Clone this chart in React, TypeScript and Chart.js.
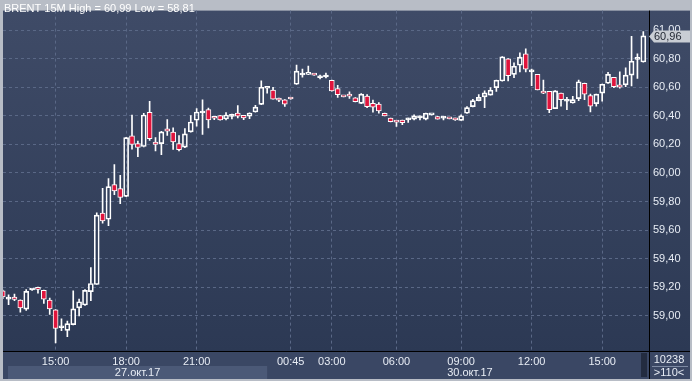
import { useEffect, useRef } from "react";
import { Chart, registerables } from "chart.js";

Chart.register(...registerables);

// ---- data (BRENT 15M) ----
const opens = [
  59.174, 59.116, 59.13, 59.11, 59.046, 59.18, 59.199, 59.178, 59.11, 59.041,
  58.916, 58.897, 58.938, 59.055, 59.075, 59.169, 59.219, 59.719, 59.676, 59.918,
  59.89, 59.836, 60.26, 60.205, 60.185, 60.425, 60.217, 60.205, 60.309, 60.286,
  60.205, 60.181, 60.288, 60.369, 60.42, 60.443, 60.385, 60.401, 60.378, 60.396,
  60.42, 60.403, 60.397, 60.427, 60.48, 60.593, 60.581, 60.512, 60.512, 60.519,
  60.621, 60.686, 60.69, 60.686, 60.667, 60.672, 60.648, 60.591, 60.534, 60.549,
  60.526, 60.487, 60.538, 60.487, 60.483, 60.418, 60.384, 60.357, 60.37, 60.372,
  60.377, 60.386, 60.377, 60.407, 60.395, 60.384, 60.38, 60.384, 60.368, 60.418,
  60.464, 60.506, 60.533, 60.545, 60.598, 60.644, 60.8, 60.69, 60.754, 60.834,
  60.708, 60.69, 60.571, 60.571, 60.451, 60.559, 60.502, 60.49, 60.52, 60.628,
  60.541, 60.486, 60.559, 60.628, 60.669, 60.617, 60.617, 60.685, 60.795, 60.777,
];
const highs = [
  59.18, 59.146, 59.151, 59.112, 59.183, 59.185, 59.201, 59.18, 59.123, 59.043,
  58.979, 58.963, 59.174, 59.116, 59.183, 59.338, 59.721, 59.893, 59.961, 60.059,
  59.984, 60.249, 60.406, 60.224, 60.418, 60.502, 60.247, 60.292, 60.373, 60.316,
  60.262, 60.311, 60.401, 60.45, 60.512, 60.454, 60.386, 60.402, 60.422, 60.413,
  60.471, 60.404, 60.421, 60.473, 60.646, 60.594, 60.6, 60.524, 60.513, 60.52,
  60.755, 60.727, 60.748, 60.687, 60.686, 60.7, 60.65, 60.614, 60.535, 60.568,
  60.527, 60.556, 60.549, 60.51, 60.492, 60.419, 60.385, 60.357, 60.371, 60.384,
  60.407, 60.4, 60.419, 60.408, 60.396, 60.395, 60.381, 60.385, 60.407, 60.464,
  60.515, 60.549, 60.575, 60.598, 60.65, 60.815, 60.801, 60.772, 60.841, 60.869,
  60.727, 60.691, 60.651, 60.572, 60.576, 60.56, 60.529, 60.536, 60.651, 60.629,
  60.552, 60.553, 60.622, 60.704, 60.67, 60.708, 60.736, 60.956, 60.834, 60.99,
];
const lows = [
  59.12, 59.078, 59.105, 59.025, 59.037, 59.178, 59.158, 59.087, 59.009, 58.81,
  58.895, 58.854, 58.936, 58.998, 59.073, 59.105, 59.217, 59.648, 59.63, 59.847,
  59.785, 59.834, 60.167, 60.114, 60.183, 60.228, 60.155, 60.128, 60.262, 60.165,
  60.154, 60.177, 60.286, 60.327, 60.269, 60.316, 60.373, 60.37, 60.371, 60.378,
  60.385, 60.373, 60.38, 60.426, 60.479, 60.558, 60.516, 60.5, 60.466, 60.517,
  60.62, 60.67, 60.689, 60.684, 60.658, 60.665, 60.573, 60.529, 60.532, 60.522,
  60.498, 60.486, 60.457, 60.425, 60.418, 60.399, 60.358, 60.326, 60.338, 60.354,
  60.372, 60.372, 60.372, 60.406, 60.376, 60.372, 60.378, 60.368, 60.367, 60.417,
  60.463, 60.505, 60.457, 60.544, 60.571, 60.643, 60.644, 60.667, 60.708, 60.708,
  60.612, 60.581, 60.555, 60.422, 60.45, 60.467, 60.444, 60.489, 60.506, 60.513,
  60.428, 60.467, 60.502, 60.627, 60.598, 60.594, 60.605, 60.61, 60.662, 60.776,
];
const closes = [
  59.132, 59.118, 59.114, 59.055, 59.171, 59.183, 59.185, 59.116, 59.048, 58.911,
  58.918, 58.945, 59.048, 59.098, 59.178, 59.226, 59.705, 59.664, 59.904, 59.874,
  59.829, 60.247, 60.199, 60.178, 60.406, 60.24, 60.199, 60.288, 60.292, 60.218,
  60.163, 60.274, 60.357, 60.427, 60.422, 60.371, 60.383, 60.371, 60.406, 60.398,
  60.397, 60.385, 60.42, 60.461, 60.6, 60.594, 60.517, 60.51, 60.482, 60.518,
  60.713, 60.688, 60.704, 60.685, 60.668, 60.673, 60.575, 60.549, 60.533, 60.538,
  60.499, 60.552, 60.464, 60.46, 60.434, 60.4, 60.359, 60.356, 60.352, 60.373,
  60.4, 60.387, 60.418, 60.407, 60.377, 60.385, 60.379, 60.372, 60.4, 60.457,
  60.506, 60.529, 60.561, 60.579, 60.649, 60.814, 60.681, 60.747, 60.811, 60.727,
  60.709, 60.582, 60.559, 60.444, 60.575, 60.513, 60.503, 60.513, 60.639, 60.552,
  60.467, 60.552, 60.621, 60.69, 60.605, 60.601, 60.685, 60.782, 60.796, 60.96,
];

const timeTickIndex = [9, 21, 33, 49, 56, 67, 78, 90, 102];
const timeTickLabels = ["15:00", "18:00", "21:00", "00:45", "03:00", "06:00", "09:00", "12:00", "15:00"];
const priceTicks = [59.0, 59.2, 59.4, 59.6, 59.8, 60.0, 60.2, 60.4, 60.6, 60.8, 61.0];
const dateLabels = ["27.окт.17", "30.окт.17"];
const dateStartIndex = [0, 45];
const titleText = "BRENT 15M High = 60,99 Low = 58,81";
const barsTotal = "10238";
const barsVisible = ">110<";

const FONT = '"Liberation Sans Narrow", "Liberation Sans", Arial, sans-serif';
const TXT = "#e8edf5";
const GRID = "#5a6886";
const RED = "#e0143c";

const fmt = (v: number) => v.toFixed(2).replace(".", ",");

export default function App() {
  const ref = useRef<HTMLCanvasElement | null>(null);

  useEffect(() => {
    document.body.style.margin = "0";
    const canvas = ref.current;
    if (!canvas) return;
    const idx = opens.map((_, i) => i);
    const isUp = (i: number) => closes[i] >= opens[i];

    const bgPlugin = {
      id: "bg",
      beforeDraw(chart: any) {
        const { ctx, chartArea: a, width, height } = chart;
        ctx.save();
        ctx.fillStyle = "#b8bdc6";
        ctx.fillRect(0, 0, width, height);
        const g = ctx.createLinearGradient(0, a.top, 0, a.bottom);
        g.addColorStop(0, "#3f4b67");
        g.addColorStop(1, "#2c3954");
        ctx.fillStyle = g;
        ctx.fillRect(a.left, a.top, a.right - a.left, a.bottom - a.top);
        ctx.fillRect(a.right, a.top, width - 2 - a.right, a.bottom - a.top);
        ctx.fillStyle = "#3a4764";
        ctx.fillRect(a.left, a.bottom, width - 2 - a.left, height - 2 - a.bottom);
        // date band of the first day
        const xs = chart.scales.x;
        const bandEnd = xs.getPixelForValue(dateStartIndex[1]);
        ctx.fillStyle = "#4b5977";
        ctx.fillRect(8, a.bottom + 15, bandEnd - 8, height - 2 - (a.bottom + 15));
        // scroll marker
        ctx.fillStyle = "#232c40";
        ctx.fillRect(a.right - 8, a.bottom + 2, 6, height - 4 - a.bottom - 2);
        ctx.restore();
      },
      afterDraw(chart: any) {
        const { ctx, chartArea: a, width, height } = chart;
        const xs = chart.scales.x;
        const ys = chart.scales.y;
        ctx.save();
        // separators
        ctx.strokeStyle = "#000";
        ctx.lineWidth = 1;
        ctx.beginPath();
        ctx.moveTo(a.right + 0.5, a.top);
        ctx.lineTo(a.right + 0.5, height - 2);
        ctx.moveTo(a.left, a.bottom + 0.5);
        ctx.lineTo(width - 2, a.bottom + 0.5);
        ctx.stroke();
        // title
        ctx.font = `11px ${FONT}`;
        ctx.fillStyle = "#ffffff";
        ctx.textBaseline = "middle";
        ctx.textAlign = "left";
        ctx.fillText(titleText, 4, 9);
        // date labels
        ctx.fillStyle = TXT;
        ctx.textAlign = "center";
        const bandEnd = xs.getPixelForValue(dateStartIndex[1]);
        ctx.fillText(dateLabels[0], (8 + bandEnd) / 2, a.bottom + 22);
        ctx.fillText(dateLabels[1], xs.getPixelForValue(79.5), a.bottom + 22);
        // bottom-right counters
        ctx.fillText(barsTotal, 669, a.bottom + 9);
        ctx.strokeStyle = "#7d8aa3";
        ctx.beginPath();
        ctx.moveTo(652, a.bottom + 15.5);
        ctx.lineTo(688, a.bottom + 15.5);
        ctx.stroke();
        ctx.fillStyle = TXT;
        ctx.fillText(barsVisible, 669, a.bottom + 22);
        // last price marker
        const last = closes[closes.length - 1];
        const y = Math.round(ys.getPixelForValue(last)) + 0.5;
        ctx.fillStyle = "#c9cdd4";
        ctx.beginPath();
        ctx.moveTo(a.right, y);
        ctx.lineTo(a.right + 5, y - 6);
        ctx.lineTo(width - 2, y - 6);
        ctx.lineTo(width - 2, y + 6);
        ctx.lineTo(a.right + 5, y + 6);
        ctx.closePath();
        ctx.fill();
        ctx.fillStyle = "#1e2430";
        ctx.textAlign = "left";
        ctx.fillText(fmt(last), a.right + 5, y + 0.5);
        ctx.restore();
      },
    };

    const chart = new Chart(canvas, {
      type: "bar",
      data: {
        datasets: [
          {
            data: idx.map((i) => ({ x: i, y: [opens[i], closes[i]] })) as any,
            backgroundColor: idx.map((i) => (isUp(i) ? "rgba(0,0,0,0)" : RED)),
            borderColor: "#ffffff",
            borderWidth: 1,
            borderSkipped: false,
            barThickness: 5,
            minBarLength: 2,
            grouped: false,
            order: 0,
          } as any,
          {
            data: idx.map((i) => ({ x: i, y: [Math.max(opens[i], closes[i]), highs[i]] })) as any,
            backgroundColor: "#ffffff",
            borderWidth: 0,
            barThickness: 1,
            grouped: false,
            order: 1,
          } as any,
          {
            data: idx.map((i) => ({ x: i, y: [lows[i], Math.min(opens[i], closes[i])] })) as any,
            backgroundColor: "#ffffff",
            borderWidth: 0,
            barThickness: 1,
            grouped: false,
            order: 2,
          } as any,
        ],
      },
      options: {
        responsive: false,
        animation: false,
        events: [],
        layout: { padding: { left: 3, top: 3, right: 2, bottom: 2 } },
        plugins: { legend: { display: false }, tooltip: { enabled: false }, title: { display: false } },
        scales: {
          x: {
            type: "linear",
            min: 0.05,
            max: 109.97,
            offset: false,
            afterBuildTicks: (s: any) => {
              s.ticks = timeTickIndex.map((v) => ({ value: v }));
            },
            afterFit: (s: any) => {
              s.height = 28;
            },
            ticks: {
              autoSkip: false,
              maxRotation: 0,
              minRotation: 0,
              padding: 4,
              color: TXT,
              font: { family: FONT, size: 11 },
              callback: (_v: any, i: number) => timeTickLabels[i],
            },
            grid: { color: GRID, lineWidth: 1, drawTicks: false, offset: false },
            border: { display: false, dash: [3, 3] },
          } as any,
          y: {
            type: "linear",
            position: "right",
            min: 58.753,
            max: 61.137,
            afterBuildTicks: (s: any) => {
              s.ticks = priceTicks.map((v) => ({ value: v }));
            },
            afterFit: (s: any) => {
              s.width = 41;
            },
            ticks: {
              padding: 4,
              color: TXT,
              font: { family: FONT, size: 11 },
              callback: (v: any) => fmt(Number(v)),
            },
            grid: { color: GRID, lineWidth: 1, drawTicks: false },
            border: { display: false, dash: [3, 3] },
          } as any,
        },
      },
      plugins: [bgPlugin],
    });
    return () => chart.destroy();
  }, []);

  return (
    <div style={{ width: 692, height: 381 }}>
      <canvas ref={ref} width={692} height={381} style={{ display: "block" }} />
    </div>
  );
}
